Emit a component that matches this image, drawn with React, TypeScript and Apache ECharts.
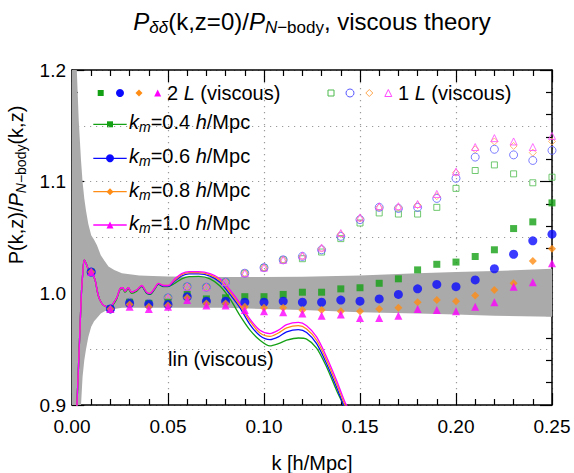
import React, { useEffect, useRef } from "react";
import * as echarts from "echarts";

const FONT = "'Liberation Sans', Arial, Helvetica, sans-serif";

// wavenumbers of the simulation points [h/Mpc]
const kPoints = [
  0.01, 0.02, 0.03, 0.04, 0.05, 0.06, 0.07, 0.08, 0.09, 0.1, 0.11, 0.12, 0.13,
  0.14, 0.15, 0.16, 0.17, 0.18, 0.19, 0.2, 0.21, 0.22, 0.23, 0.24, 0.25,
];

// two-loop viscous results
const twoL_km04 = [
  1.019, 0.986, 0.992, 0.991, 0.992, 0.999, 0.995, 0.996, 0.997, 0.997, 0.999, 1.001, 1.001,
  1.004, 1.005, 1.009, 1.013, 1.021, 1.026, 1.028, 1.033, 1.039, 1.058, 1.064, 1.081,
];
const twoL_km06 = [
  1.019, 0.986, 0.991, 0.99, 0.99, 0.997, 0.993, 0.993, 0.992, 0.992, 0.993, 0.992, 0.992,
  0.994, 0.993, 0.995, 0.999, 1.004, 1.008, 1.006, 1.012, 1.022, 1.035, 1.047, 1.053,
];
const twoL_km08 = [
  1.019, 0.986, 0.99, 0.988, 0.989, 0.996, 0.991, 0.991, 0.988, 0.987, 0.987, 0.985, 0.985,
  0.984, 0.984, 0.986, 0.987, 0.992, 0.994, 0.993, 0.998, 1.003, 1.009, 1.029, 1.04,
];
const twoL_km10 = [
  1.019, 0.986, 0.988, 0.986, 0.988, 0.994, 0.989, 0.989, 0.985, 0.984, 0.983, 0.982, 0.98,
  0.981, 0.978, 0.978, 0.98, 0.986, 0.985, 0.984, 0.988, 0.992, 1.006, 1.01, 1.027,
];

// one-loop viscous results
const oneL_km04 = [
  1.019, 0.986, 0.992, 0.991, 0.996, 1.006, 1.0055, 1.01, 1.018, 1.023, 1.03, 1.031, 1.037,
  1.049, 1.063, 1.072, 1.071, 1.071, 1.077, 1.094, 1.11, 1.115, 1.107, 1.099, 1.104,
];
const oneL_km06 = [
  1.019, 0.986, 0.992, 0.991, 0.996, 1.006, 1.0055, 1.01, 1.018, 1.023, 1.03, 1.033, 1.039,
  1.051, 1.066, 1.077, 1.076, 1.077, 1.085, 1.103, 1.122, 1.129, 1.124, 1.119, 1.128,
];
const oneL_km08 = [
  1.019, 0.986, 0.992, 0.991, 0.996, 1.006, 1.0055, 1.01, 1.018, 1.023, 1.03, 1.033, 1.04,
  1.053, 1.067, 1.077, 1.077, 1.079, 1.087, 1.108, 1.129, 1.136, 1.132, 1.126, 1.136,
];
const oneL_km10 = [
  1.019, 0.986, 0.992, 0.991, 0.996, 1.006, 1.0055, 1.01, 1.018, 1.023, 1.03, 1.034, 1.041,
  1.054, 1.068, 1.078, 1.078, 1.08, 1.089, 1.109, 1.131, 1.139, 1.136, 1.131, 1.141,
];

// linear viscous theory curves
const kLin = [
  0.002, 0.0026, 0.0034, 0.0042, 0.0049, 0.0056, 0.0064, 0.0075, 0.0085, 0.01, 0.012, 0.0137,
  0.0155, 0.018, 0.02, 0.0215, 0.0233, 0.025, 0.0264, 0.0276, 0.0293, 0.031, 0.0337, 0.0363,
  0.0389, 0.0406, 0.0432, 0.045, 0.0476, 0.05, 0.0536, 0.0571, 0.061, 0.066, 0.0719, 0.0771,
  0.0823, 0.0875, 0.0927, 0.0979, 0.1031, 0.1075, 0.1118, 0.1179, 0.1222, 0.1274, 0.1326,
  0.1378, 0.1422, 0.146,
];
const linKm10 = [
  0.85, 0.9, 0.935, 0.97, 1.0, 1.018, 1.03, 1.026, 1.022, 1.02, 1.012, 0.998, 0.991, 0.988,
  0.988, 0.991, 0.996, 1.004, 1.005, 1.002, 1.005, 1.001, 1.003, 1.007, 1.001, 1.0, 1.005,
  1.009, 1.007, 1.007, 1.013, 1.0177, 1.0195, 1.0195, 1.0177, 1.013, 1.003, 0.991, 0.977,
  0.967, 0.964, 0.967, 0.972, 0.974, 0.971, 0.961, 0.943, 0.922, 0.9025, 0.89,
];
const linKm08 = [
  0.85, 0.9, 0.935, 0.97, 1.0, 1.018, 1.03, 1.026, 1.022, 1.02, 1.012, 0.998, 0.991, 0.988,
  0.988, 0.991, 0.996, 1.004, 1.005, 1.002, 1.005, 1.001, 1.003, 1.007, 1.001, 1.0, 1.005,
  1.009, 1.007, 1.007, 1.012, 1.0167, 1.0185, 1.0185, 1.0165, 1.0115, 1.001, 0.989, 0.975,
  0.9645, 0.9615, 0.9645, 0.969, 0.971, 0.968, 0.958, 0.94, 0.919, 0.9, 0.888,
];
const linKm06 = [
  0.85, 0.9, 0.935, 0.97, 1.0, 1.018, 1.03, 1.026, 1.022, 1.02, 1.012, 0.998, 0.991, 0.988,
  0.988, 0.991, 0.996, 1.004, 1.005, 1.002, 1.005, 1.001, 1.003, 1.0065, 1.0005, 0.9995, 1.0045,
  1.0085, 1.0065, 1.0065, 1.011, 1.0155, 1.0175, 1.0175, 1.0155, 1.01, 0.999, 0.987, 0.972,
  0.962, 0.9585, 0.961, 0.9655, 0.9675, 0.965, 0.955, 0.937, 0.916, 0.897, 0.885,
];
const linKm04 = [
  0.85, 0.9, 0.935, 0.97, 1.0, 1.018, 1.03, 1.026, 1.022, 1.02, 1.012, 0.998, 0.991, 0.988,
  0.988, 0.99, 0.995, 1.003, 1.004, 1.001, 1.004, 1.0, 1.002, 1.006, 1.0, 0.999, 1.004,
  1.008, 1.006, 1.006, 1.009, 1.013, 1.015, 1.0152, 1.013, 1.0065, 0.995, 0.98, 0.967,
  0.958, 0.953, 0.955, 0.958, 0.96, 0.959, 0.951, 0.934, 0.913, 0.897, 0.882,
];

// N-body variance band
const bandK = [
  0.0, 0.0015, 0.0025, 0.0035, 0.0047, 0.0055, 0.0064, 0.0073, 0.0085, 0.01, 0.0115, 0.013,
  0.015, 0.017, 0.019, 0.022, 0.026, 0.03, 0.035, 0.042, 0.05, 0.065, 0.08, 0.1, 0.12, 0.15,
  0.18, 0.2, 0.22, 0.25,
];
const bandUpper = [
  1.6, 1.35, 1.2, 1.155, 1.119, 1.1, 1.085, 1.074, 1.062, 1.052, 1.048, 1.043, 1.034, 1.029,
  1.024, 1.021, 1.018, 1.017, 1.016, 1.0155, 1.015, 1.0148, 1.0146, 1.0146, 1.0148, 1.016,
  1.018, 1.019, 1.02, 1.022,
];
const bandLower = [
  0.3, 0.6, 0.76, 0.85, 0.9, 0.925, 0.94, 0.95, 0.961, 0.97, 0.975, 0.978, 0.982, 0.984,
  0.985, 0.986, 0.987, 0.987, 0.987, 0.987, 0.987, 0.987, 0.987, 0.986, 0.985, 0.983, 0.982,
  0.981, 0.98, 0.979,
];

const kmLabels = ["0.4", "0.6", "0.8", "1.0"];
const colors = ["#14a014", "#0a0aff", "#ff8c14", "#ff00ff"];
const openColors = ["#4cba4c", "#5a5aff", "#ffa850", "#ff48ff"];
const symbols = ["rect", "circle", "diamond", "triangle"];
const symbolSizes = [7, 9, 8, 8];

const twoL = [twoL_km04, twoL_km06, twoL_km08, twoL_km10];
const oneL = [oneL_km04, oneL_km06, oneL_km08, oneL_km10];
const lin = [linKm04, linKm06, linKm08, linKm10];

const rich = {
  n: { fontSize: 20, fontFamily: FONT, fill: "#000" },
  it: { fontSize: 20, fontFamily: FONT, fontStyle: "italic", fill: "#000" },
  sub: { fontSize: 14, fontFamily: FONT, fontStyle: "italic", fill: "#000", padding: [10, 0, 0, 0] },
  subn: { fontSize: 14, fontFamily: FONT, fill: "#000", padding: [10, 0, 0, 0] },
};

const titleRich = {
  n: { fontSize: 24, fontFamily: FONT, fill: "#000" },
  it: { fontSize: 24, fontFamily: FONT, fontStyle: "italic", fill: "#000" },
  sub: { fontSize: 17, fontFamily: FONT, fontStyle: "italic", fill: "#000", padding: [12, 0, 0, 0] },
  subn: { fontSize: 17, fontFamily: FONT, fill: "#000", padding: [12, 0, 0, 0] },
};

function marker(kind: string, cx: number, cy: number, size: number, fill: string, stroke?: string) {
  const h = size / 2;
  const style: any = stroke ? { fill: "none", stroke, lineWidth: 1 } : { fill };
  if (kind === "rect") {
    return { type: "rect", shape: { x: cx - h, y: cy - h, width: size, height: size }, style };
  }
  if (kind === "circle") {
    return { type: "circle", shape: { cx, cy, r: h }, style };
  }
  if (kind === "diamond") {
    return {
      type: "polygon",
      shape: { points: [[cx, cy - h], [cx + h, cy], [cx, cy + h], [cx - h, cy]] },
      style,
    };
  }
  return {
    type: "polygon",
    shape: { points: [[cx, cy - h], [cx + h, cy + h], [cx - h, cy + h]] },
    style,
  };
}

function buildLegend() {
  const els: any[] = [];
  const row1Y = 93;
  const filledX = [100.7, 120, 139, 157.7];
  const openX = [331, 350, 369.3, 388.3];
  for (let i = 0; i < 4; i++) {
    els.push(marker(symbols[i], filledX[i], row1Y, symbolSizes[i] - 1, colors[i]));
    els.push(marker(symbols[i], openX[i], row1Y, symbolSizes[i] - 1, "none", openColors[i]));
  }
  els.push({
    type: "text",
    x: 167,
    y: row1Y,
    style: { text: "{n|2 }{it|L}{n| (viscous)}", rich, verticalAlign: "middle", align: "left" },
  });
  els.push({
    type: "text",
    x: 398,
    y: row1Y,
    style: { text: "{n|1 }{it|L}{n| (viscous)}", rich, verticalAlign: "middle", align: "left" },
  });
  const rowY = [124.3, 158.3, 191.7, 225];
  for (let i = 0; i < 4; i++) {
    const y = rowY[i];
    els.push({
      type: "line",
      shape: { x1: 93.3, y1: y, x2: 126.7, y2: y },
      style: { stroke: colors[i], lineWidth: 1.3 },
    });
    els.push(marker(symbols[i], 110, y, symbolSizes[i] - 1, colors[i]));
    els.push({
      type: "text",
      x: 129,
      y: y - 2,
      style: {
        text: `{it|k}{sub|m}{n|=${kmLabels[i]} }{it|h}{n|/Mpc}`,
        rich,
        verticalAlign: "middle",
        align: "left",
      },
    });
  }
  return els;
}

export default function App() {
  const ref = useRef<HTMLDivElement>(null);

  useEffect(() => {
    if (!ref.current) return;
    const chart = echarts.init(ref.current, null, { renderer: "svg" });

    const tickStyle = { color: "#000", width: 1.2 };
    const baseX = {
      type: "value",
      min: 0,
      max: 0.25,
      interval: 0.05,
      axisLine: { show: true, onZero: false, lineStyle: { color: "#000", width: 1.5 } },
      axisTick: { show: true, inside: true, length: 12, lineStyle: tickStyle },
      minorTick: { show: true, splitNumber: 5, length: 6, lineStyle: tickStyle },
    };
    const baseY = {
      type: "value",
      min: 0.9,
      max: 1.2,
      interval: 0.1,
      axisLine: { show: true, onZero: false, lineStyle: { color: "#000", width: 1.5 } },
      axisTick: { show: true, inside: true, length: 12, lineStyle: tickStyle },
      minorTick: { show: true, splitNumber: 5, length: 6, lineStyle: tickStyle },
    };
    const dotted = { color: "#9a9a9a", width: 1.2, type: [1.2, 4.8] };

    const series: any[] = [];

    series.push({
      type: "custom",
      clip: true,
      silent: true,
      z: 1,
      data: bandK.map((k, i) => [k, bandLower[i], bandUpper[i]]),
      encode: { x: 0, y: [1, 2] },
      renderItem: (params: any, api: any) => {
        if (params.dataIndex !== 0) return null;
        const top = bandK.map((k, i) => api.coord([k, bandUpper[i]]));
        const bottom = bandK.map((k, i) => api.coord([k, bandLower[i]])).reverse();
        return {
          type: "polygon",
          shape: { points: top.concat(bottom) },
          style: { fill: "#aaaaaa" },
        };
      },
    });

    for (let i = 0; i < 4; i++) {
      series.push({
        type: "line",
        z: 2,
        data: kLin.map((k, j) => [k, lin[i][j]]),
        showSymbol: false,
        symbol: "none",
        smooth: 0.3,
        clip: true,
        lineStyle: { color: colors[i], width: 1.3 },
      });
    }

    for (let i = 0; i < 4; i++) {
      series.push({
        type: "scatter",
        z: 3,
        data: kPoints.map((k, j) => [k, oneL[i][j]]),
        symbol: symbols[i],
        symbolSize: symbolSizes[i] - 1,
        itemStyle: { color: "rgba(0,0,0,0)", borderColor: openColors[i], borderWidth: 1 },
      });
    }
    for (let i = 0; i < 4; i++) {
      series.push({
        type: "scatter",
        z: 4,
        data: kPoints.map((k, j) => [k, twoL[i][j]]),
        symbol: symbols[i],
        symbolSize: symbolSizes[i],
        itemStyle: { color: colors[i] },
      });
    }

    chart.setOption({
      animation: false,
      backgroundColor: "#fff",
      grid: { left: 72, top: 70, width: 480, height: 335, containLabel: false },
      xAxis: [
        {
          ...baseX,
          position: "bottom",
          axisLabel: {
            fontSize: 19,
            color: "#000",
            fontFamily: FONT,
            margin: 12,
            formatter: (v: number) => v.toFixed(2),
          },
          splitLine: { show: true, lineStyle: dotted },
        },
        {
          ...baseX,
          position: "top",
          axisLabel: { show: false },
          splitLine: { show: false },
        },
      ],
      yAxis: [
        {
          ...baseY,
          position: "left",
          axisLabel: {
            fontSize: 19,
            color: "#000",
            fontFamily: FONT,
            margin: 6,
            formatter: (v: number) => v.toFixed(1),
          },
          splitLine: { show: false },
        },
        {
          ...baseY,
          position: "right",
          axisLabel: { show: false },
          splitLine: { show: false },
        },
        {
          type: "value",
          min: 0.9,
          max: 1.2,
          interval: 0.05,
          position: "left",
          axisLine: { show: false },
          axisTick: { show: false },
          axisLabel: { show: false },
          splitLine: { show: true, lineStyle: dotted },
        },
      ],
      series,
      graphic: [
        {
          type: "text",
          x: 312,
          y: 21,
          style: {
            text: "{it|P}{sub|δδ}{n|(k,z=0)/}{it|P}{sub|N}{subn|−body}{n|, viscous theory}",
            rich: titleRich,
            align: "center",
            verticalAlign: "middle",
          },
        },
        {
          type: "text",
          x: 312,
          y: 463,
          style: {
            text: "k [h/Mpc]",
            fontSize: 20,
            fontFamily: FONT,
            fill: "#000",
            align: "center",
            verticalAlign: "middle",
          },
        },
        {
          type: "text",
          x: 16,
          y: 185,
          rotation: Math.PI / 2,
          style: {
            text: "{n|P(k,z)/}{it|P}{sub|N}{subn|−body}{n|(k,z)}",
            rich,
            align: "center",
            verticalAlign: "middle",
          },
        },
        {
          type: "text",
          x: 168,
          y: 359,
          style: {
            text: "lin (viscous)",
            fontSize: 20,
            fontFamily: FONT,
            fill: "#000",
            align: "left",
            verticalAlign: "middle",
          },
        },
        ...buildLegend(),
      ],
    });

    return () => chart.dispose();
  }, []);

  return (
    <div
      ref={ref}
      style={{ position: "fixed", left: 0, top: 0, width: 574, height: 473 }}
    />
  );
}
